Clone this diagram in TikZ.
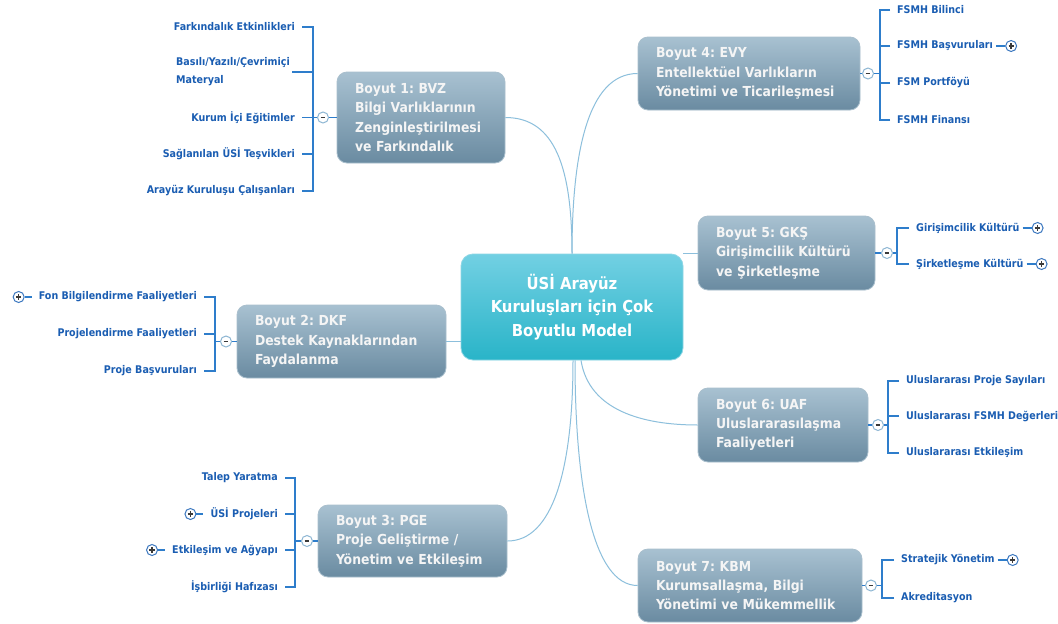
\documentclass[tikz,border=0pt]{standalone}
\usepackage{fontspec}
\newfontfamily\tah[BoldFont={DejaVu Sans Condensed Bold}]{DejaVu Sans Condensed}
\usetikzlibrary{positioning}
\definecolor{dimtop}{HTML}{A8C1D1}
\definecolor{dimbot}{HTML}{6A8BA1}
\definecolor{dimedge}{HTML}{A9BFCD}
\definecolor{ctrtop}{HTML}{72D0E3}
\definecolor{ctrbot}{HTML}{29B4C8}
\definecolor{ctredge}{HTML}{8ED6E5}
\definecolor{mainline}{HTML}{8CBFDC}
\definecolor{brkline}{HTML}{2E7DCB}
\definecolor{leafblue}{HTML}{1A5DB2}
\definecolor{ringlight}{HTML}{8DB6D3}
\definecolor{ringdark}{HTML}{3C78C0}
\definecolor{glyph}{HTML}{3A3A3A}
\frenchspacing
\begin{document}
\begin{tikzpicture}[x=1pt,y=-1pt,
  centre/.style={rounded corners=12pt, top color=ctrtop, bottom color=ctrbot,
    draw=ctredge, line width=0.8pt, text=white, align=center, inner sep=0pt,
    font=\tah\bfseries\fontsize{16.5}{23.5}\selectfont},
  dimbox/.style={rounded corners=10pt, top color=dimtop, bottom color=dimbot,
    draw=dimedge, line width=0.8pt, text=white!96!black, align=left,
    inner xsep=18pt, inner ysep=0pt,
    font=\tah\bfseries\fontsize{13.8}{19.3}\selectfont},
  leaf/.style={text=leafblue, inner xsep=7pt, inner ysep=1pt, align=left,
    font=\tah\bfseries\fontsize{10.6}{18}\selectfont},
  leafL/.style={leaf, anchor=east},
  leafR/.style={leaf, anchor=west},
  main/.style={draw=mainline, line width=1pt},
  brk/.style={draw=brkline, line width=1.1pt},
  minusic/.style={circle, minimum size=11pt, inner sep=0pt, draw=ringlight,
    fill=white, line width=1pt,
    path picture={\draw[glyph, line width=1.4pt]
      ([xshift=-2.4pt]path picture bounding box.center) --
      ([xshift=2.4pt]path picture bounding box.center);}},
  plusic/.style={circle, minimum size=11pt, inner sep=0pt, draw=ringdark,
    fill=white, line width=1pt,
    path picture={\draw[glyph, line width=1.3pt]
      ([xshift=-2.6pt]path picture bounding box.center) --
      ([xshift=2.6pt]path picture bounding box.center)
      ([yshift=-2.6pt]path picture bounding box.center) --
      ([yshift=2.6pt]path picture bounding box.center);}},
]
\useasboundingbox[fill=white] (0,0) rectangle (1058,624);

% ---------- central topic ----------
\node[centre, minimum width=222pt, minimum height=106pt] (ctr) at (572,307)
  {ÜSİ Arayüz\\Kuruluşları için Çok\\Boyutlu Model};

% ---------- main dimensions ----------
\node[dimbox, minimum height=91pt, text width=132pt] (b1) at (421,117.5)
  {Boyut 1: BVZ\\Bilgi Varlıklarının\\Zenginleştirilmesi\\ve Farkındalık};
\node[dimbox, minimum height=73pt, text width=173pt] (b2) at (341.5,341.5)
  {Boyut 2: DKF\\Destek Kaynaklarından\\Faydalanma};
\node[dimbox, minimum height=72pt, text width=153pt] (b3) at (412.5,541)
  {Boyut 3: PGE\\Proje Geliştirme /\\Yönetim ve Etkileşim};
\node[dimbox, minimum height=73pt, text width=186pt] (b4) at (749,73.5)
  {Boyut 4: EVY\\Entellektüel Varlıkların\\Yönetimi ve Ticarileşmesi};
\node[dimbox, minimum height=74pt, text width=141pt] (b5) at (786.5,253)
  {Boyut 5: GKŞ\\Girişimcilik Kültürü\\ve Şirketleşme};
\node[dimbox, minimum height=74pt, text width=134pt] (b6) at (783,425)
  {Boyut 6: UAF\\Uluslararasılaşma\\Faaliyetleri};
\node[dimbox, minimum height=73pt, text width=188pt] (b7) at (750,585.5)
  {Boyut 7: KBM\\Kurumsallaşma, Bilgi\\Yönetimi ve Mükemmellik};

% ---------- links from the centre ----------
\draw[main] (ctr.north) .. controls +(0,-85) and +(50,0) .. (b1.east);
\draw[main] (ctr.north) .. controls +(0,-100) and +(-50,0) .. (b4.west);
\draw[main] (ctr.west |- b2.east) -- (b2.east);
\draw[main] (ctr.east |- b5.west) -- (b5.west);
\draw[main] ([xshift=1pt]ctr.south) .. controls +(0,110) and +(45,0) .. (b3.east);
\draw[main] ([xshift=3pt]ctr.south) .. controls +(0,125) and +(-45,0) .. (b7.west);
\draw[main] ([xshift=9pt]ctr.south) .. controls +(8,50) and +(-55,0) .. (b6.west);

% ---------- collapse buttons ----------
\node[minusic] (i1) at (323,117.5) {};
\node[minusic] (i2) at (226,341.5) {};
\node[minusic] (i3) at (307,541) {};
\node[minusic] (i4) at (868,73.5) {};
\node[minusic] (i5) at (887,253) {};
\node[minusic] (i6) at (878,425) {};
\node[minusic] (i7) at (871,585.5) {};
\draw[brk] (b1.west) -- (i1.east);
\draw[brk] (b2.west) -- (i2.east);
\draw[brk] (b3.west) -- (i3.east);
\draw[brk] (b4.east) -- (i4.west);
\draw[brk] (b5.east) -- (i5.west);
\draw[brk] (b6.east) -- (i6.west);
\draw[brk] (b7.east) -- (i7.west);

% bracket spines
\coordinate (k1) at (313,117.5);
\coordinate (k2) at (215,341.5);
\coordinate (k3) at (295,541);
\coordinate (k4) at (880,73.5);
\coordinate (k5) at (897,253);
\coordinate (k6) at (888,425);
\coordinate (k7) at (882,585.5);
\draw[brk] (i1.west) -- (k1);
\draw[brk] (i2.west) -- (k2);
\draw[brk] (i3.west) -- (k3);
\draw[brk] (i4.east) -- (k4);
\draw[brk] (i5.east) -- (k5);
\draw[brk] (i6.east) -- (k6);
\draw[brk] (i7.east) -- (k7);

% ---------- Boyut 1 leaves ----------
\node[leafL] (l11) at (302,27) {Farkındalık Etkinlikleri};
\node[leafL] (l12) at (297,72) {Basılı/Yazılı/Çevrimiçi\\Materyal};
\node[leafL] (l13) at (302,117.5) {Kurum İçi Eğitimler};
\node[leafL] (l14) at (302,154) {Sağlanılan ÜSİ Teşvikleri};
\node[leafL] (l15) at (302,191) {Arayüz Kuruluşu Çalışanları};
\foreach \n in {l11,l13,l14,l15} \draw[brk] (\n.east) -| (k1);
\draw[brk, shorten <=-5pt] (l12.east) -| (k1);

% ---------- Boyut 2 leaves ----------
\node[leafL] (l21) at (204,297) {Fon Bilgilendirme Faaliyetleri};
\node[leafL] (l22) at (204,334) {Projelendirme Faaliyetleri};
\node[leafL] (l23) at (204,371) {Proje Başvuruları};
\foreach \n in {l21,l22,l23} \draw[brk] (\n.east) -| (k2);
\node[plusic, left=7pt of l21] (p21) {};
\draw[brk] (p21.east) -- (l21.west);

% ---------- Boyut 3 leaves ----------
\node[leafL] (l31) at (285,478) {Talep Yaratma};
\node[leafL] (l32) at (285,514) {ÜSİ Projeleri};
\node[leafL] (l33) at (285,550) {Etkileşim ve Ağyapı};
\node[leafL] (l34) at (285,587) {İşbirliği Hafızası};
\foreach \n in {l31,l32,l33,l34} \draw[brk] (\n.east) -| (k3);
\node[plusic, left=7pt of l32] (p32) {};
\node[plusic, left=7pt of l33] (p33) {};
\draw[brk] (p32.east) -- (l32.west);
\draw[brk] (p33.east) -- (l33.west);

% ---------- Boyut 4 leaves ----------
\node[leafR] (l41) at (890,10) {FSMH Bilinci};
\node[leafR] (l42) at (890,46) {FSMH Başvuruları};
\node[leafR] (l43) at (890,83) {FSM Portföyü};
\node[leafR] (l44) at (890,120) {FSMH Finansı};
\foreach \n in {l41,l42,l43,l44} \draw[brk] (\n.west) -| (k4);
\node[plusic, right=5pt of l42] (p42) {};
\draw[brk, shorten <=-4pt] (l42.east) -- (p42.west);

% ---------- Boyut 5 leaves ----------
\node[leafR] (l51) at (909,228) {Girişimcilik Kültürü};
\node[leafR] (l52) at (909,264) {Şirketleşme Kültürü};
\foreach \n in {l51,l52} \draw[brk] (\n.west) -| (k5);
\node[plusic, right=5pt of l51] (p51) {};
\node[plusic, right=5pt of l52] (p52) {};
\draw[brk, shorten <=-4pt] (l51.east) -- (p51.west);
\draw[brk, shorten <=-4pt] (l52.east) -- (p52.west);

% ---------- Boyut 6 leaves ----------
\node[leafR] (l61) at (899,381) {Uluslararası Proje Sayıları};
\node[leafR] (l62) at (899,416) {Uluslararası FSMH Değerleri};
\node[leafR] (l63) at (899,453) {Uluslararası Etkileşim};
\foreach \n in {l61,l62,l63} \draw[brk] (\n.west) -| (k6);

% ---------- Boyut 7 leaves ----------
\node[leafR] (l71) at (894,560) {Stratejik Yönetim};
\node[leafR] (l72) at (894,598) {Akreditasyon};
\foreach \n in {l71,l72} \draw[brk] (\n.west) -| (k7);
\node[plusic, right=5pt of l71] (p71) {};
\draw[brk, shorten <=-4pt] (l71.east) -- (p71.west);
\end{tikzpicture}
\end{document}
